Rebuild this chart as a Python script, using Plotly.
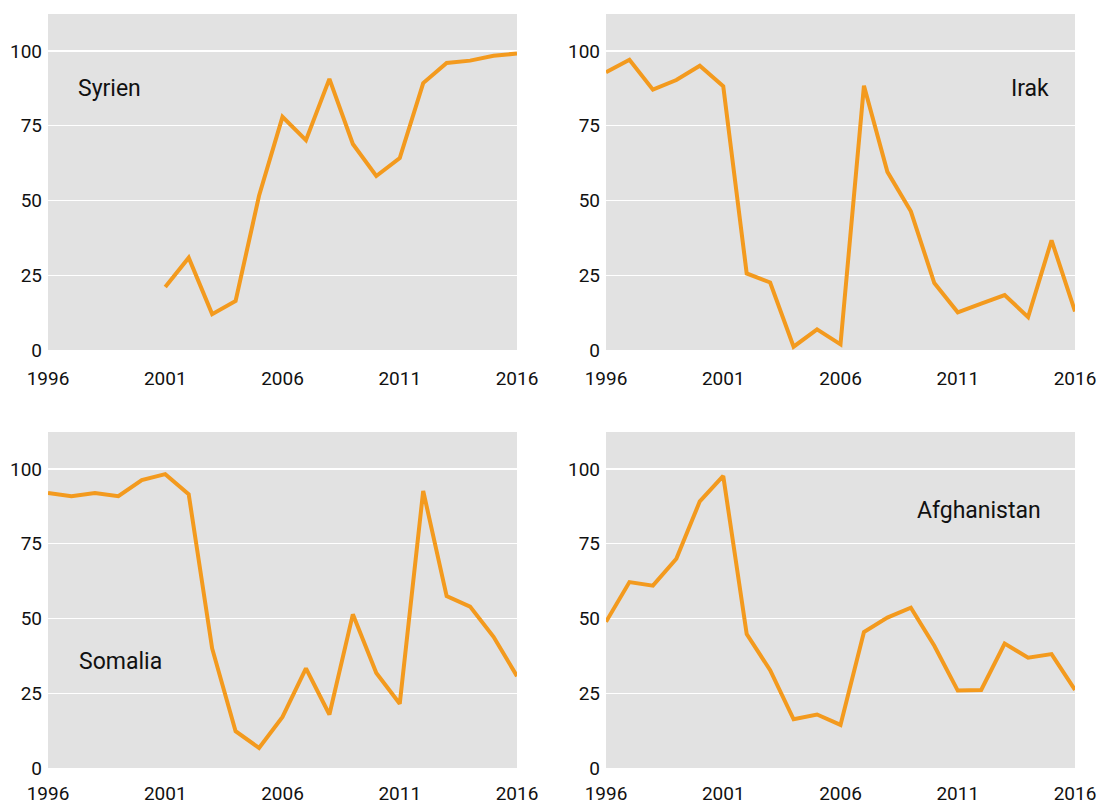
import plotly.graph_objects as go
from plotly.subplots import make_subplots

years = list(range(1996, 2017))

syrien = [None, None, None, None, None,
          21.1, 30.9, 12.0, 16.4, 51.6, 78.0, 70.2, 90.7, 68.9, 58.2, 64.2, 89.3, 96.0, 96.8, 98.4, 99.2]
irak = [92.9, 97.1, 87.1, 90.3, 95.1, 88.2, 25.6, 22.6, 1.1, 6.9, 1.9, 88.4, 59.6, 46.4, 22.4, 12.6,
        15.5, 18.4, 11.0, 36.7, 12.9]
somalia = [92.0, 90.9, 92.0, 90.9, 96.3, 98.3, 91.6, 40.0, 12.3, 6.7, 17.1, 33.3, 17.9, 51.4, 31.8, 21.5,
           92.7, 57.5, 54.0, 43.9, 30.7]
afghanistan = [48.9, 62.2, 61.0, 70.0, 89.2, 97.7, 44.8, 32.7, 16.3, 17.9, 14.4, 45.5, 50.3, 53.6, 40.9,
               25.9, 26.1, 41.6, 36.9, 38.1, 26.1]

panels = [("Syrien", syrien), ("Irak", irak), ("Somalia", somalia), ("Afghanistan", afghanistan)]

x_ticks = [1996, 2001, 2006, 2011, 2016]
y_ticks = [0, 25, 50, 75, 100]

W, H = 1097, 805
LINE = "#F39A1E"
BG = "#E2E2E2"
FONT = "Roboto, Lato, sans-serif"

fig = make_subplots(rows=2, cols=2)

for i, (name, vals) in enumerate(panels):
    r, c = i // 2 + 1, i % 2 + 1
    fig.add_trace(go.Scatter(x=years, y=vals, mode="lines", name=name,
                             line=dict(color=LINE, width=4), connectgaps=False,
                             showlegend=False), row=r, col=c)

xd = [(48 / W, 517 / W), (606 / W, 1075 / W)]
yd = [(1 - 350 / H, 1 - 14 / H), (1 - 768 / H, 1 - 432 / H)]

for i in range(4):
    r, c = i // 2, i % 2
    suffix = "" if i == 0 else str(i + 1)
    fig.layout["xaxis" + suffix].update(
        domain=list(xd[c]), range=[1996, 2016], tickvals=x_ticks,
        ticktext=[str(v) for v in x_ticks], showgrid=False, zeroline=False,
        showline=False, ticks="", ticklabelstandoff=15 if r == 0 else 12,
        automargin=False,
        tickfont=dict(family=FONT, size=19, color="#111111"))
    fig.layout["yaxis" + suffix].update(
        domain=list(yd[r]), range=[0, 112.4], tickvals=y_ticks,
        showgrid=True, gridcolor="white", gridwidth=1.2, zeroline=False,
        showline=False, ticks="", ticklabelstandoff=5, automargin=False,
        tickfont=dict(family=FONT, size=19, color="#111111"))

anns = [
    ("Syrien", 76, 89, "left"),
    ("Irak", 1051, 89, "right"),
    ("Somalia", 77, 661, "left"),
    ("Afghanistan", 1043, 510, "right"),
]
for text, px, py, anchor in anns:
    fig.add_annotation(text=text, x=px / W, y=1 - py / H, xref="paper", yref="paper",
                       xanchor=anchor, yanchor="middle", showarrow=False,
                       font=dict(family=FONT, size=23, color="#111111"))

fig.update_layout(width=W, height=H, autosize=False,
                  margin=dict(l=0, r=0, t=0, b=0),
                  paper_bgcolor="white", plot_bgcolor=BG,
                  font=dict(family=FONT), hovermode=False)

fig.write_html("out.html", config={"displayModeBar": False, "staticPlot": True},
               post_script="document.body.style.margin='0';document.body.style.overflow='hidden';")
